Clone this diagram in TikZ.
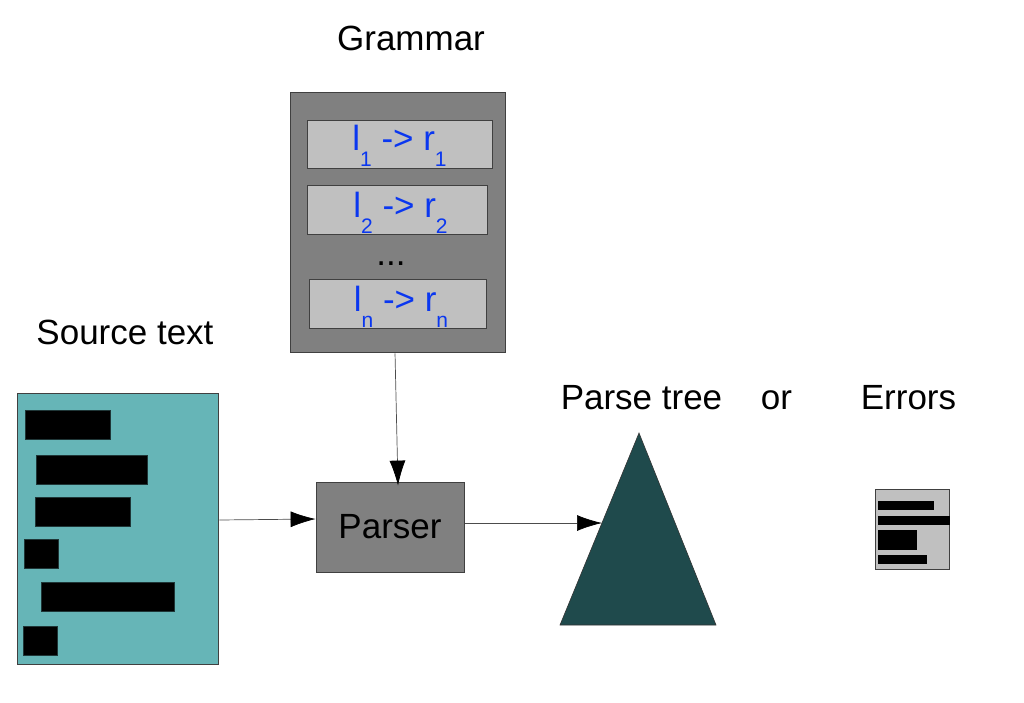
\documentclass[tikz,border=0pt]{standalone}
\usepackage{fontspec}
\setmainfont{Liberation Sans}
\usepackage{xcolor}
\usetikzlibrary{arrows.meta}
\definecolor{tealbox}{HTML}{66B5B7}
\definecolor{darkbox}{HTML}{808080}
\definecolor{lightbox}{HTML}{C0C0C0}
\definecolor{treefill}{HTML}{1F4A4C}
\definecolor{ruleblue}{HTML}{0A37F0}
\newcommand{\sbs}[1]{\raisebox{-16pt}{\fontsize{21}{21}\selectfont #1}}
\newcommand{\prodrule}[3]{\smash{\hspace*{#2}\raisebox{#3}{\textcolor{ruleblue}{l\sbs{#1} -> r\sbs{#1}}}}}
\tikzset{
  title/.style={font=\fontsize{35}{36}\selectfont, inner sep=0pt, anchor=base},
  box/.style={draw=black!75, line width=.8pt, inner sep=0pt, font=\fontsize{35}{36}\selectfont},
  bar/.style={fill=black, draw=black!70!tealbox, line width=.4pt, inner sep=0pt},
  conn/.style={-{Latex[black,length=25pt,width=16pt]}, draw=black!70, line width=.7pt, shorten <=1pt}
  }
\begin{document}
\begin{tikzpicture}[x=1pt,y=-1pt]
      \useasboundingbox (0,0) rectangle (1024,702);
      % labels
      \node[title] (grammarlabel) at (411,50) {Grammar};
      \node[title] (sourcelabel) at (125,344) {Source text};
      \node[title] (treelabel) at (641.5,409) {Parse tree};
      \node[title] (orlabel) at (776.5,409) {or};
      \node[title] (errorslabel) at (908.5,409) {Errors};
      % source text
      \node[box, fill=tealbox, minimum width=201pt, minimum height=271pt] (source) at (117.5,528.5) {};
      \node[bar, minimum width=85pt, minimum height=29pt] (s1) at (67.5,424.5) {};
      \node[bar, minimum width=111pt, minimum height=29pt] (s2) at (91.5,469.5) {};
      \node[bar, minimum width=95pt, minimum height=29pt] (s3) at (83,511.5) {};
      \node[bar, minimum width=34pt, minimum height=29pt] (s4) at (41,553.5) {};
      \node[bar, minimum width=133pt, minimum height=29pt] (s5) at (107.5,596.5) {};
      \node[bar, minimum width=34pt, minimum height=29pt] (s6) at (40,640.5) {};
      % grammar
      \node[box, fill=darkbox, minimum width=215pt, minimum height=260pt] (grammar) at (397.5,222) {};
      \node[box, fill=lightbox, minimum width=185pt, minimum height=48pt] (r1) at (399.5,144) {\prodrule{1}{0pt}{-6pt}};
      \node[box, fill=lightbox, minimum width=180pt, minimum height=49pt] (r2) at (397,210) {\prodrule{2}{7pt}{-7pt}};
      \node[title] (dots) at (391,265) {...};
      \node[box, fill=lightbox, minimum width=177pt, minimum height=49pt] (rn) at (397.5,303.5) {\prodrule{n}{7pt}{-8pt}};
      % parser
      \node[box, fill=darkbox, minimum width=148pt, minimum height=90pt] (parser) at (390,527) {\raisebox{-1pt}{Parser}};
      % parse tree
      \coordinate (apex) at (639,433);
      \coordinate (baseleft) at (560,625);
      \coordinate (baseright) at (716,625);
      \coordinate (treein) at (602,523);
      \draw[fill=treefill, draw=black!80, line width=.6pt] (apex) -- (baseright) -- (baseleft) -- cycle;
      % errors
      \node[box, fill=lightbox, minimum width=74pt, minimum height=80pt] (errors) at (912,529) {};
      \node[bar, draw=black, minimum width=55pt, minimum height=8pt] (e1) at (905.5,505) {};
      \node[bar, draw=black, minimum width=71pt, minimum height=8pt] (e2) at (913.5,520) {};
      \node[bar, draw=black, minimum width=38pt, minimum height=19pt] (e3) at (897,539.5) {};
      \node[bar, draw=black, minimum width=48pt, minimum height=8pt] (e4) at (902,559) {};
      % connectors
      \draw [conn] ([xshift=-2.5pt]grammar.south) -- ([xshift=8pt,yshift=-4pt]parser.north);
      \draw [conn] ([yshift=8.5pt]source.east) -- ([yshift=8pt]parser.west);
      \draw [conn] ([yshift=4pt]parser.east) -- (treein);
    \end{tikzpicture}
\end{document}
